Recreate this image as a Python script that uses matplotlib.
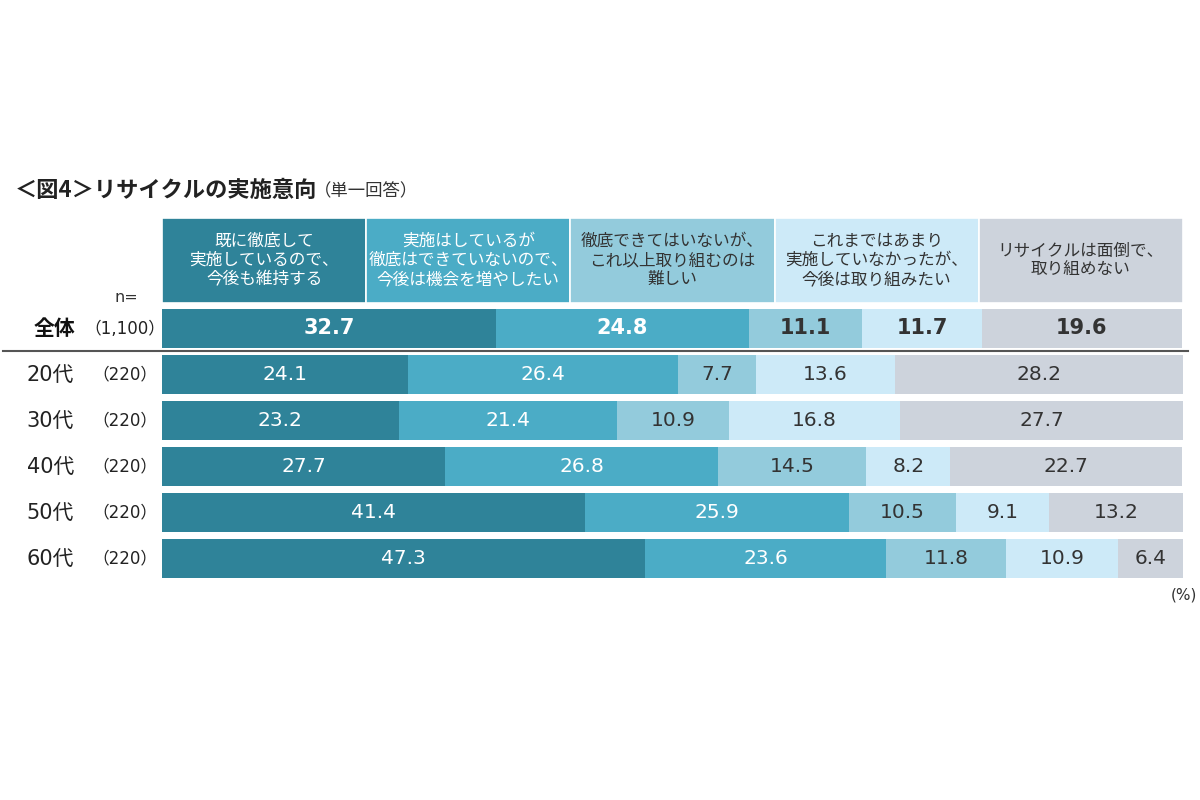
import numpy as np
import matplotlib
matplotlib.use("Agg")
import matplotlib.pyplot as plt
import matplotlib.transforms as mtransforms

plt.rcParams['font.family'] = ['DejaVu Sans', 'Noto Sans CJK JP']

# data
rows = ['全体', '20代', '30代', '40代', '50代', '60代']
n_labels = ['（1,100）', '（220）', '（220）', '（220）', '（220）', '（220）']
categories = ['既に徹底して\n実施しているので、\n今後も維持する',
              '実施はしているが\n徹底はできていないので、\n今後は機会を増やしたい',
              '徹底できてはいないが、\nこれ以上取り組むのは\n難しい',
              'これまではあまり\n実施していなかったが、\n今後は取り組みたい',
              'リサイクルは面倒で、\n取り組めない']
maintain = [32.7, 24.1, 23.2, 27.7, 41.4, 47.3]
increase = [24.8, 26.4, 21.4, 26.8, 25.9, 23.6]
difficult = [11.1, 7.7, 10.9, 14.5, 10.5, 11.8]
start = [11.7, 13.6, 16.8, 8.2, 9.1, 10.9]
bother = [19.6, 28.2, 27.7, 22.7, 13.2, 6.4]

colors = ['#2f8399', '#4bacc6', '#93cbdc', '#cdeaf8', '#cdd3dc']
text_colors = ['white', 'white', '#333333', '#333333', '#333333']

W, H = 1200, 800
fig = plt.figure(figsize=(12, 8), dpi=100)
fig.patch.set_facecolor('white')

# title
fig.text(15 / W, 1 - 190 / H, '＜図4＞リサイクルの実施意向', fontsize=16, fontweight='bold',
         family='Noto Sans CJK JP', color='#222222', va='center', ha='left')
fig.text(314 / W, 1 - 191 / H, '（単一回答）', fontsize=12.5,
         family='Noto Sans CJK JP', color='#333333', va='center', ha='left')

# header boxes
hax = fig.add_axes([162 / W, 1 - 303 / H, 1021 / W, 85 / H])
hx = np.arange(len(categories))
hax.bar(hx, [1] * len(categories), width=1, align='edge', color=colors,
        edgecolor='white', linewidth=1.2)
for i, lab in enumerate(categories):
    hax.text(i + 0.5, 0.5, lab, ha='center', va='center', fontsize=12,
             family='Noto Sans CJK JP', color=text_colors[i], linespacing=1.15)
hax.set_xlim(0, len(categories))
hax.set_ylim(0, 1)
hax.set_axis_off()

# bars
ax = fig.add_axes([162 / W, 1 - 581.5 / H, 1021 / W, 276 / H])
series = [maintain, increase, difficult, start, bother]
y = np.arange(len(rows))
left = np.zeros(len(rows))
for k, vals in enumerate(series):
    vals = np.array(vals)
    ax.barh(y, vals, left=left, height=0.83, color=colors[k], linewidth=0)
    for j in range(len(rows)):
        bold = (j == 0)
        ax.text(left[j] + vals[j] / 2, y[j], f'{vals[j]:.1f}', ha='center', va='center',
                fontsize=15 if bold else 14.5, fontweight='bold' if bold else 'normal',
                color=text_colors[k])
    left += vals
ax.set_xlim(0, 100)
ax.set_ylim(len(rows) - 0.5, -0.5)
ax.set_axis_off()

# row labels
trans = mtransforms.blended_transform_factory(fig.transFigure, ax.transData)
for j, (r, n) in enumerate(zip(rows, n_labels)):
    if j == 0:
        ax.text(75 / W, y[j], r, transform=trans, ha='right', va='center', fontsize=15,
                fontweight='bold', family=['Noto Sans CJK JP'], color='#111111')
    else:
        ax.text(74 / W, y[j], r, transform=trans, ha='right', va='center', fontsize=15,
                family=['DejaVu Sans', 'Noto Sans CJK JP'], color='#222222')
    ax.text(125 / W, y[j], n, transform=trans, ha='center', va='center', fontsize=12,
            family=['DejaVu Sans', 'Noto Sans CJK JP'], color='#222222')

fig.text(126 / W, 1 - 297 / H, 'n=', ha='center', va='center', fontsize=11.5, color='#333333')
fig.text(1197 / W, 1 - 595 / H, '(%)', ha='right', va='center', fontsize=11,
         color='#333333')

# separator under total row
fig.add_artist(plt.Line2D([3 / W, 1188 / W], [1 - 351 / H, 1 - 351 / H],
                          color='#555555', linewidth=1.5))

fig.savefig('out.png', dpi=100)
